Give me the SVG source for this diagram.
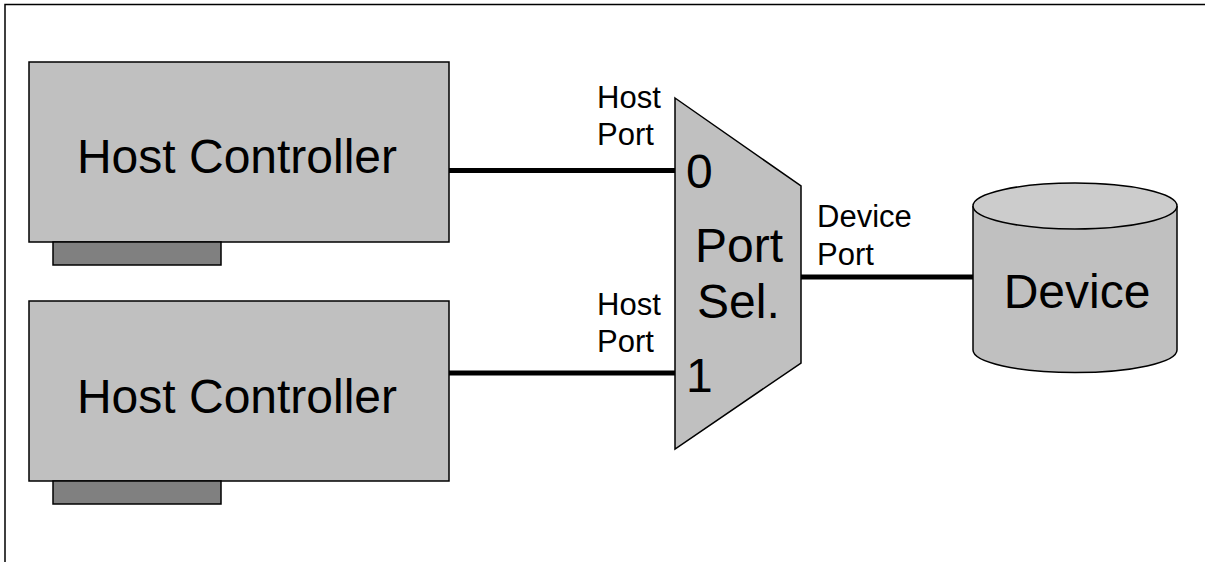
<svg xmlns="http://www.w3.org/2000/svg" width="1205" height="562" viewBox="0 0 1205 562">
<style>
.box{fill:#c0c0c0;stroke:#000;stroke-width:1.5}
.tab{fill:#808080;stroke:#000;stroke-width:1.5}
.big{font-family:"Liberation Sans",Arial,sans-serif;font-size:48px;fill:#000}
.small{font-family:"Liberation Sans",Arial,sans-serif;font-size:31px;fill:#000}
.wire{stroke:#000;stroke-width:5;fill:none}
</style>
<rect width="1205" height="562" fill="#fff"/>
<path d="M5,562 V4.5 H1205" fill="none" stroke="#000" stroke-width="1.5"/>
<g id="host-controller-0">
<rect class="box" x="29" y="62" width="420" height="180"/>
<rect class="tab" x="53" y="242" width="168" height="23"/>
<text class="big" x="237" y="173" text-anchor="middle">Host Controller</text>
</g>
<g id="host-controller-1">
<rect class="box" x="29" y="301" width="420" height="180"/>
<rect class="tab" x="53" y="481" width="168" height="23"/>
<text class="big" x="237" y="413" text-anchor="middle">Host Controller</text>
</g>
<g id="port-selector">
<polygon class="box" points="675,98 801,186 801,363 675,449"/>
<text class="big" x="686" y="188">0</text>
<text class="big" x="686" y="392">1</text>
<text class="big" x="695" y="262">Port</text>
<text class="big" x="697" y="318">Sel.</text>
</g>
<g id="device">
<path class="box" d="M973,206 V350 A102,22.5 0 0 0 1177,350 V206"/>
<ellipse cx="1075" cy="206" rx="102" ry="23" fill="#cccccc" stroke="#000" stroke-width="1.5"/>
<text class="big" x="1077" y="308" text-anchor="middle">Device</text>
</g>
<g id="connectors">
<line class="wire" x1="449" y1="170.5" x2="675" y2="170.5"/>
<line class="wire" x1="449" y1="373" x2="675" y2="373"/>
<line class="wire" x1="801" y1="277" x2="973" y2="277"/>
</g>
<g id="labels">
<text class="small" x="597" y="108">Host</text>
<text class="small" x="597" y="145">Port</text>
<text class="small" x="597" y="315">Host</text>
<text class="small" x="597" y="352">Port</text>
<text class="small" x="817" y="227">Device</text>
<text class="small" x="817" y="265">Port</text>
</g>
</svg>
